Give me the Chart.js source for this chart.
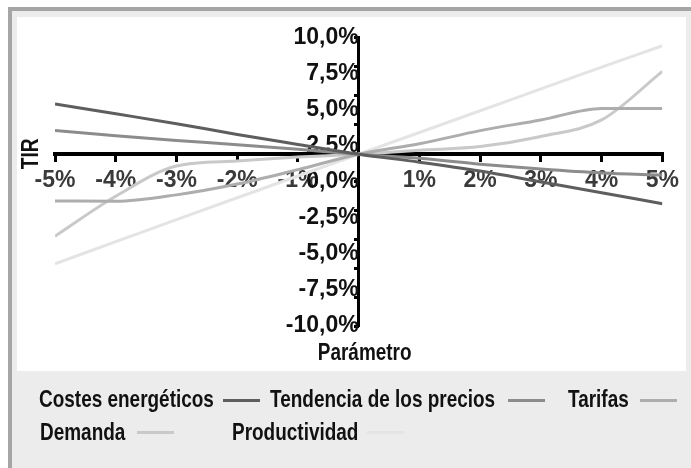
<!DOCTYPE html>
<html>
<head>
<meta charset="utf-8">
<script src="https://cdn.jsdelivr.net/npm/chart.js@4.4.1/dist/chart.umd.min.js"></script>
<style>
  body { margin: 0; width: 691px; height: 468px; overflow: hidden; background: #fff; }
  #frame { position: absolute; left: 8px; top: 7px; width: 683px; height: 461px;
           border-left: 4px solid #a5a5a5; border-top: 4px solid #a5a5a5; background: #ececec; box-sizing: border-box; }
  #plot { position: absolute; left: 17px; top: 17px; width: 669px; height: 354px; background: #fff; }
  #legend { position: absolute; left: 0; top: 0; width: 691px; height: 468px; pointer-events: none;
            font-family: 'Liberation Sans', Arial, sans-serif; font-weight: bold; font-size: 24px; color: #111; }
  .txt { position: absolute; white-space: nowrap; line-height: 28px; transform: scaleX(0.79); transform-origin: 0 50%; }
  .line { position: absolute; width: 37px; height: 3px; }
</style>
</head>
<body>
<div id="frame"></div>
<div id="plot"><canvas id="tirChart" width="669" height="354"></canvas></div>
<div id="legend"></div>
<script>
const xValues = [-5, -4, -3, -2, -1, 0, 1, 2, 3, 4, 5];
const costes = [5.41, 4.73, 4.04, 3.29, 2.6, 1.92, 1.37, 0.75, 0.0, -0.75, -1.51];
const tendencia = [3.56, 3.2, 2.88, 2.58, 2.26, 1.92, 1.64, 1.23, 0.89, 0.62, 0.48];
const tarifas = [-1.32, -1.35, -0.9, -0.15, 0.85, 1.92, 2.65, 3.56, 4.3, 5.1, 5.1];
const demanda = [-3.77, -1.0, 1.1, 1.45, 1.72, 1.92, 2.2, 2.45, 3.15, 4.3, 7.67];
const productividad = [-5.68, -4.15, -2.62, -1.1, 0.41, 1.92, 3.43, 4.94, 6.45, 7.96, 9.45];

const seriesNames = ["Costes energéticos", "Tendencia de los precios", "Tarifas", "Demanda", "Productividad"];
const seriesColors = ["#5e5e5e", "#8c8c8c", "#adadad", "#c9c9c9", "#e4e4e4"];
const seriesValues = [costes, tendencia, tarifas, demanda, productividad];

const FONT = "'Liberation Sans', Arial, sans-serif";

function pct(v) {
  return v.toFixed(1).replace(".", ",") + "%";
}

// titulos de los ejes (colocados como en el original), letra estrechada
const axisTitles = {
  id: "axisTitles",
  afterDraw(chart) {
    const c = chart.ctx;
    const xs = chart.scales.x, ys = chart.scales.y;
    c.save();
    c.fillStyle = "#111";
    c.font = "bold 24px " + FONT;
    c.textAlign = "center";
    c.textBaseline = "middle";
    c.save();
    c.translate(xs.getPixelForValue(0) + 6, chart.chartArea.bottom + 27);
    c.scale(0.79, 1);
    c.fillText("Parámetro", 0, 0);
    c.restore();
    c.translate(14, ys.getPixelForValue(1.95));
    c.rotate(-Math.PI / 2);
    c.scale(0.8, 1);
    c.fillText("TIR", 0, 0);
    c.restore();
  }
};

const ctx = document.getElementById("tirChart");

new Chart(ctx, {
  type: "line",
  data: {
    datasets: seriesNames.map((name, i) => ({
      label: name,
      data: xValues.map((x, j) => ({ x: x, y: seriesValues[i][j] })),
      borderColor: seriesColors[i],
      backgroundColor: seriesColors[i],
      borderWidth: 3,
      pointRadius: 0,
      cubicInterpolationMode: "monotone"
    }))
  },
  options: {
    responsive: false,
    animation: false,
    layout: { padding: { left: 38, right: 18, top: 17, bottom: 45 } },
    plugins: { legend: { display: false }, tooltip: { enabled: false } },
    scales: {
      x: {
        type: "linear",
        min: -5, max: 5,
        position: { y: 1.95 },
        border: { color: "#000", width: 4 },
        grid: { drawOnChartArea: false, drawTicks: true, tickLength: 6, color: "#000", lineWidth: 3 },
        ticks: {
          stepSize: 1,
          padding: 7,
          color: "#3a3a3a",
          font: { family: FONT, size: 23, weight: "bold" },
          callback: v => (v === 0 ? "" : v + "%")
        }
      },
      y: {
        type: "linear",
        min: -10, max: 10,
        position: { x: 0 },
        border: { color: "#000", width: 3 },
        grid: { drawOnChartArea: false, drawTicks: false },
        ticks: {
          stepSize: 2.5,
          padding: 7,
          color: "#111",
          font: { family: FONT, size: 23, weight: "bold" },
          callback: v => pct(v)
        }
      },
      y2: {
        type: "linear",
        min: -10, max: 10,
        position: { x: 0 },
        border: { display: false },
        grid: { drawOnChartArea: false, drawTicks: true, tickLength: 5, color: "#000", lineWidth: 3 },
        ticks: { stepSize: 2, display: false }
      }
    }
  },
  plugins: [axisTitles]
});

// leyenda: texto y luego la linea
const legendText = [[39, 385], [270, 385], [568, 385], [40, 418], [232, 418]];
const legendLine = [[223, 399], [508, 399], [640, 399], [137, 431], [367, 431]];
const legend = document.getElementById("legend");
seriesNames.forEach((name, i) => {
  const t = document.createElement("div");
  t.className = "txt";
  t.style.left = legendText[i][0] + "px";
  t.style.top = legendText[i][1] + "px";
  t.textContent = name;
  legend.appendChild(t);
  const l = document.createElement("div");
  l.className = "line";
  l.style.left = legendLine[i][0] + "px";
  l.style.top = legendLine[i][1] + "px";
  l.style.background = seriesColors[i];
  legend.appendChild(l);
});
</script>
</body>
</html>
